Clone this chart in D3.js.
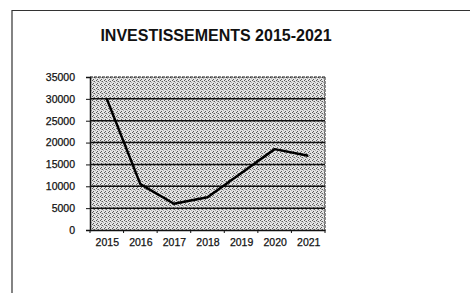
<!DOCTYPE html>
<html>
<head>
<meta charset="utf-8">
<script src="https://cdn.jsdelivr.net/npm/d3@7"></script>
<style>
  body { margin: 0; background: #fff; }
  svg { display: block; }
</style>
</head>
<body>
<div id="container"></div>
<script>
const years = ["2015", "2016", "2017", "2018", "2019", "2020", "2021"];
const investissements = [30000, 10500, 6000, 7500, 13000, 18500, 17000];
const yTicks = [0, 5000, 10000, 15000, 20000, 25000, 30000, 35000];
const chartTitle = "INVESTISSEMENTS 2015-2021";

const width = 470, height = 293;
const plot = { left: 90, right: 325, top: 77, bottom: 230 };

const svg = d3.select("#container").append("svg")
    .attr("width", width)
    .attr("height", height);

// dithered grey fill like the scanned print
const defs = svg.append("defs");
const pat = defs.append("pattern")
    .attr("id", "dots")
    .attr("width", 4)
    .attr("height", 4)
    .attr("patternUnits", "userSpaceOnUse");
pat.append("rect").attr("width", 4).attr("height", 4).attr("fill", "#e4e4e4");
const darkDots = [[0, 0], [2, 1], [1, 3]];
const midDots = [[3, 2], [1, 1]];
darkDots.forEach(p => pat.append("rect").attr("x", p[0]).attr("y", p[1])
    .attr("width", 1).attr("height", 1).attr("fill", "#5a5a5a"));
midDots.forEach(p => pat.append("rect").attr("x", p[0]).attr("y", p[1])
    .attr("width", 1).attr("height", 1).attr("fill", "#a8a8a8"));

// outer frame
svg.append("path")
    .attr("d", "M12,293 L12,10.5 L470,10.5")
    .attr("fill", "none")
    .attr("stroke", "#333")
    .attr("stroke-width", 1.2);

svg.append("text")
    .attr("x", 216)
    .attr("y", 41)
    .attr("text-anchor", "middle")
    .attr("font-family", "Liberation Sans, Arial, sans-serif")
    .attr("font-weight", "bold")
    .attr("font-size", 16)
    .attr("fill", "#111")
    .text(chartTitle);

const x = d3.scalePoint()
    .domain(years)
    .range([plot.left, plot.right])
    .padding(0.5);

const y = d3.scaleLinear()
    .domain([0, 35000])
    .range([plot.bottom, plot.top]);

svg.append("rect")
    .attr("x", plot.left)
    .attr("y", plot.top)
    .attr("width", plot.right - plot.left)
    .attr("height", plot.bottom - plot.top)
    .attr("fill", "url(#dots)");

// gridlines
svg.append("g")
    .selectAll("line")
    .data(yTicks.slice(1))
    .enter().append("line")
    .attr("x1", plot.left)
    .attr("x2", plot.right)
    .attr("y1", d => y(d))
    .attr("y2", d => y(d))
    .attr("stroke", "#111")
    .attr("stroke-width", d => d === 35000 ? 1 : 1.5)
    .attr("stroke-dasharray", d => d === 35000 ? "3,1" : null);

// right border
svg.append("line")
    .attr("x1", plot.right).attr("x2", plot.right)
    .attr("y1", plot.top).attr("y2", plot.bottom)
    .attr("stroke", "#222")
    .attr("stroke-width", 1)
    .attr("stroke-dasharray", "3,1");

const yAxis = svg.append("g")
    .attr("transform", `translate(${plot.left},0)`)
    .call(d3.axisLeft(y).tickValues(yTicks).tickSize(4).tickPadding(11).tickFormat(d3.format("d")));

const xAxis = svg.append("g")
    .attr("transform", `translate(0,${plot.bottom})`)
    .call(d3.axisBottom(x).tickSize(0).tickPadding(9));

// category dividers on the x axis
svg.append("g")
    .selectAll("line")
    .data(years.concat(["end"]))
    .enter().append("line")
    .attr("x1", (d, i) => plot.left + i * x.step())
    .attr("x2", (d, i) => plot.left + i * x.step())
    .attr("y1", plot.bottom)
    .attr("y2", plot.bottom + 3)
    .attr("stroke", "#111");

[yAxis, xAxis].forEach(g => {
    g.select(".domain").attr("stroke", "#111").attr("stroke-width", 1.5);
    g.selectAll(".tick line").attr("stroke", "#111");
    g.selectAll("text")
        .attr("font-family", "Liberation Sans, Arial, sans-serif")
        .attr("font-size", 10.5)
        .attr("fill", "#111")
        .attr("stroke", "#111")
        .attr("stroke-width", 0.25);
});

const line = d3.line()
    .x((d, i) => x(years[i]))
    .y(d => y(d));

svg.append("path")
    .datum(investissements)
    .attr("d", line)
    .attr("fill", "none")
    .attr("stroke", "#000")
    .attr("stroke-width", 2.5)
    .attr("stroke-linejoin", "round");
</script>
</body>
</html>
